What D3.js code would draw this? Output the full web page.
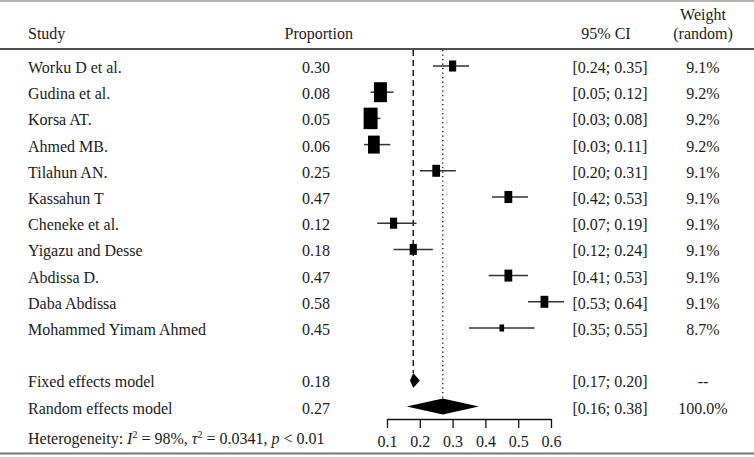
<!DOCTYPE html>
<html><head><meta charset="utf-8">
<script src="https://cdn.jsdelivr.net/npm/d3@7/dist/d3.min.js"></script>
<style>
body{margin:0;background:#fff;}
svg text{font-family:"Liberation Serif","DejaVu Serif",serif;font-size:16px;fill:#1a1a1a;}
</style></head>
<body><svg id="c" width="754" height="457"></svg>
<script>
const studies = ["Worku D et al.","Gudina et al.","Korsa AT.","Ahmed MB.","Tilahun AN.","Kassahun T","Cheneke et al.","Yigazu and Desse","Abdissa D.","Daba Abdissa","Mohammed Yimam Ahmed"];
const proportion = [0.30,0.08,0.05,0.06,0.25,0.47,0.12,0.18,0.47,0.58,0.45];
const ciLower = [0.24,0.05,0.03,0.03,0.20,0.42,0.07,0.12,0.41,0.53,0.35];
const ciUpper = [0.35,0.12,0.08,0.11,0.31,0.53,0.19,0.24,0.53,0.64,0.55];
const weightRandom = ["9.1%","9.2%","9.2%","9.2%","9.1%","9.1%","9.1%","9.1%","9.1%","9.1%","8.7%"];
// fixed-effect weights
const weightFixed = [5.6,18.4,21.3,14.9,6.6,6.6,5.6,5.6,6.6,6.6,2.3];
const fixedModel = {label:"Fixed effects model", est:0.18, lo:0.17, hi:0.20, w:"--"};
const randomModel = {label:"Random effects model", est:0.27, lo:0.16, hi:0.38, w:"100.0%"};
const axisTicks = [0.1,0.2,0.3,0.4,0.5,0.6];
const headers = {study:"Study", prop:"Proportion", ci:"95% CI", w1:"Weight", w2:"(random)"};

const svg = d3.select("#c");
const x = d3.scaleLinear().domain([0.1,0.6]).range([387,551]);
const y = d3.scaleLinear().domain([0,1]).range([66,92.2]);
const size = d3.scaleSqrt().domain([0,d3.max(weightFixed)]).range([0,21.5]);
const fmt = d3.format(".2f");

const xStudy = 28, xProp = 330, xCI = 610, xW = 703, tOff = 7;

// rules
svg.append("line").attr("x1",0).attr("x2",754).attr("y1",1).attr("y2",1).attr("stroke","#999").attr("stroke-width",1.5);
svg.append("line").attr("x1",0).attr("x2",754).attr("y1",49).attr("y2",49).attr("stroke","#111").attr("stroke-width",1.5);
svg.append("line").attr("x1",0).attr("x2",754).attr("y1",453.5).attr("y2",453.5).attr("stroke","#777").attr("stroke-width",2);

// headers
svg.append("text").attr("x",xStudy).attr("y",39).text(headers.study);
svg.append("text").attr("x",353).attr("y",39).attr("text-anchor","end").text(headers.prop);
svg.append("text").attr("x",xCI-4).attr("y",39).attr("text-anchor","middle").text(headers.ci);
svg.append("text").attr("x",xW).attr("y",20).attr("text-anchor","middle").text(headers.w1);
svg.append("text").attr("x",xW).attr("y",39).attr("text-anchor","middle").text(headers.w2);

// reference lines
const yFixed = y(12), yRandom = y(13);
const hFixed = 15, hRandom = 16;
svg.append("line").attr("x1",x(fixedModel.est)).attr("x2",x(fixedModel.est))
  .attr("y1",50).attr("y2",yFixed-hFixed/2).attr("stroke","#111").attr("stroke-width",1.4).attr("stroke-dasharray","6,4");
svg.append("line").attr("x1",x(randomModel.est)).attr("x2",x(randomModel.est))
  .attr("y1",50).attr("y2",yRandom-hRandom/2).attr("stroke","#111").attr("stroke-width",1.3).attr("stroke-dasharray","1.3,3.2");

// study rows
studies.forEach((s,i)=>{
  const cy = y(i);
  svg.append("text").attr("x",xStudy).attr("y",cy+tOff).text(s);
  svg.append("text").attr("x",xProp).attr("y",cy+tOff).attr("text-anchor","end").text(fmt(proportion[i]));
  svg.append("text").attr("x",xCI).attr("y",cy+tOff).attr("text-anchor","middle").text("["+fmt(ciLower[i])+"; "+fmt(ciUpper[i])+"]");
  svg.append("text").attr("x",xW).attr("y",cy+tOff).attr("text-anchor","middle").text(weightRandom[i]);
  svg.append("line").attr("x1",x(ciLower[i])).attr("x2",x(ciUpper[i])).attr("y1",cy).attr("y2",cy).attr("stroke","#333").attr("stroke-width",1.5);
  const h = size(weightFixed[i]), w = h*0.65;
  svg.append("rect").attr("x",x(proportion[i])-w/2).attr("y",cy-h/2).attr("width",w).attr("height",h).attr("fill","#000");
});

// model rows
[[fixedModel,yFixed,hFixed],[randomModel,yRandom,hRandom]].forEach(([m,cy,h])=>{
  svg.append("text").attr("x",xStudy).attr("y",cy+tOff).text(m.label);
  svg.append("text").attr("x",xProp).attr("y",cy+tOff).attr("text-anchor","end").text(fmt(m.est));
  svg.append("text").attr("x",xCI).attr("y",cy+tOff).attr("text-anchor","middle").text("["+fmt(m.lo)+"; "+fmt(m.hi)+"]");
  svg.append("text").attr("x",xW).attr("y",cy+tOff).attr("text-anchor","middle").text(m.w);
  const pts = [[x(m.lo),cy],[x(m.est),cy-h/2],[x(m.hi),cy],[x(m.est),cy+h/2]];
  svg.append("path").attr("d",d3.line()(pts)+"Z").attr("fill","#000");
});

// heterogeneity
const het = svg.append("text").attr("x",xStudy).attr("y",444);
het.append("tspan").text("Heterogeneity: ");
het.append("tspan").attr("font-style","italic").text("I");
het.append("tspan").attr("dy",-6).attr("font-size","10px").text("2");
het.append("tspan").attr("dy",6).text(" = 98%, ");
het.append("tspan").attr("font-style","italic").text("τ");
het.append("tspan").attr("dy",-6).attr("font-size","10px").text("2");
het.append("tspan").attr("dy",6).text(" = 0.0341, ");
het.append("tspan").attr("font-style","italic").text("p");
het.append("tspan").text(" < 0.01");

// axis
const ax = svg.append("g").attr("transform","translate(0,419)")
  .call(d3.axisBottom(x).tickValues(axisTicks).tickFormat(d3.format(".1f")).tickSize(9).tickSizeOuter(0));
ax.select(".domain").attr("stroke","#111").attr("stroke-width",1.3);
ax.selectAll(".tick line").attr("stroke","#111").attr("stroke-width",1.3);
ax.selectAll(".tick text").attr("font-family","Liberation Serif, serif").attr("font-size","16px").attr("fill","#1a1a1a").attr("y",28).attr("dy",null);
</script></body></html>
